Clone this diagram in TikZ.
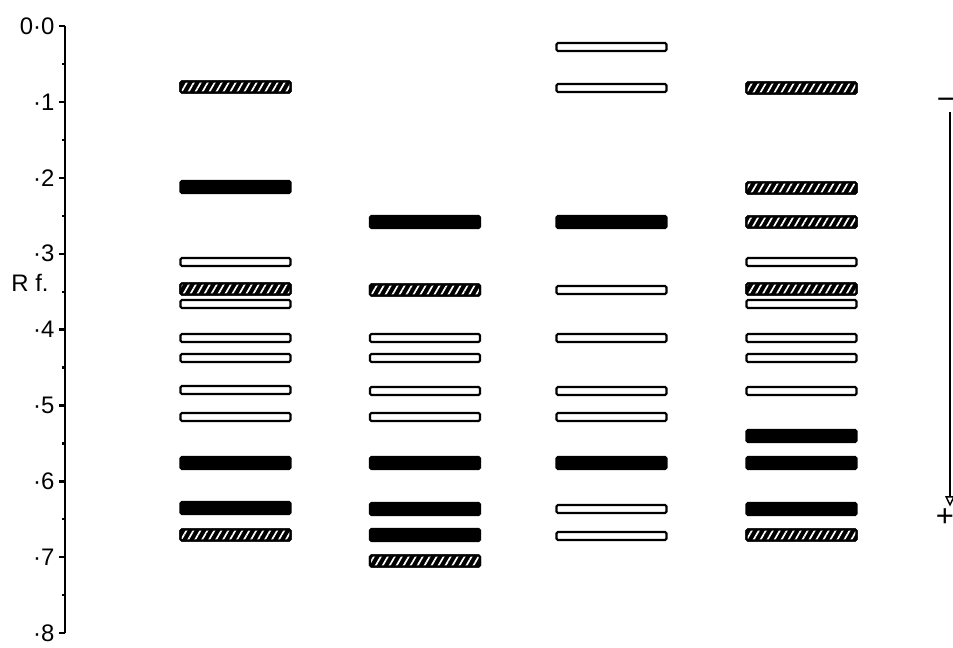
\documentclass[tikz,border=0pt]{standalone}
\usepackage{fontspec}
\setmainfont{Liberation Sans}
\usetikzlibrary{arrows.meta,patterns.meta}

\begin{document}
\begin{tikzpicture}[
    x=0.25mm, y=-0.25mm,
    font=\fontsize{17}{19}\selectfont, line width=0.55mm,
    band/.style={draw,rounded corners=1pt,minimum width=27.5mm,inner sep=0pt},
    openband/.style={band,fill=white,minimum height=2mm},
    darkband/.style={band,fill=black,minimum height=3mm},
    hatchband/.style={band,fill=black,minimum height=2.75mm,
        postaction={pattern={Lines[angle=60,distance=4.3pt,line width=1.2pt]},pattern color=white},
        postaction={draw=black}},
    ticklab/.style={anchor=east,inner sep=1pt},
    elec/.style={-{Triangle[open,length=2.6mm,width=2.4mm]},line width=0.35mm},
    sign/.style={inner sep=1pt,font=\fontsize{22}{24}\selectfont}
]
\path[use as bounding box] (0,0) rectangle (953,648);

% Rf scale
\draw (65,26) -- (65,633);
\foreach \i/\lab in {0/0·0,1/·1,2/·2,3/·3,4/·4,5/·5,6/·6,7/·7,8/·8} {
    \draw (65,{26+75.9*\i}) -- (59,{26+75.9*\i});
    \node[ticklab] (t\i) at (57,{26+75.9*\i}) {\lab};
}
\foreach \i in {0,...,7}
    \draw (65,{26+75.9*(\i+0.5)}) -- (62,{26+75.9*(\i+0.5)});
\node (rf) at (30,283) {R f.};

% lanes
\foreach \y/\t in {87/hatchband,187/darkband,262/openband,289/hatchband,304/openband,
    338/openband,358/openband,390/openband,417/openband,463/darkband,508/darkband,535/hatchband}
    \node[\t] (a\y) at (235.5,\y) {};
\foreach \y/\t in {222/darkband,290/hatchband,338/openband,358/openband,391/openband,
    417/openband,463/darkband,509/darkband,535/darkband,561/hatchband}
    \node[\t] (b\y) at (425,\y) {};
\foreach \y/\t in {47/openband,88/openband,222/darkband,290/openband,338/openband,
    391/openband,417/openband,463/darkband,509/openband,536/openband}
    \node[\t] (c\y) at (611.5,\y) {};
\foreach \y/\t in {88/hatchband,188/hatchband,222/hatchband,262/openband,289/hatchband,
    304/openband,338/openband,358/openband,391/openband,436/darkband,463/darkband,
    509/darkband,535/hatchband}
    \node[\t] (d\y) at (801.5,\y) {};

% direction of run
\node[sign] (minus) at (946,104) {−};
\node[sign] (plus) at (945,518) {+};
\draw[elec] (minus.south -| 950,0) -- (plus.north -| 950,0);
\end{tikzpicture}
\end{document}
